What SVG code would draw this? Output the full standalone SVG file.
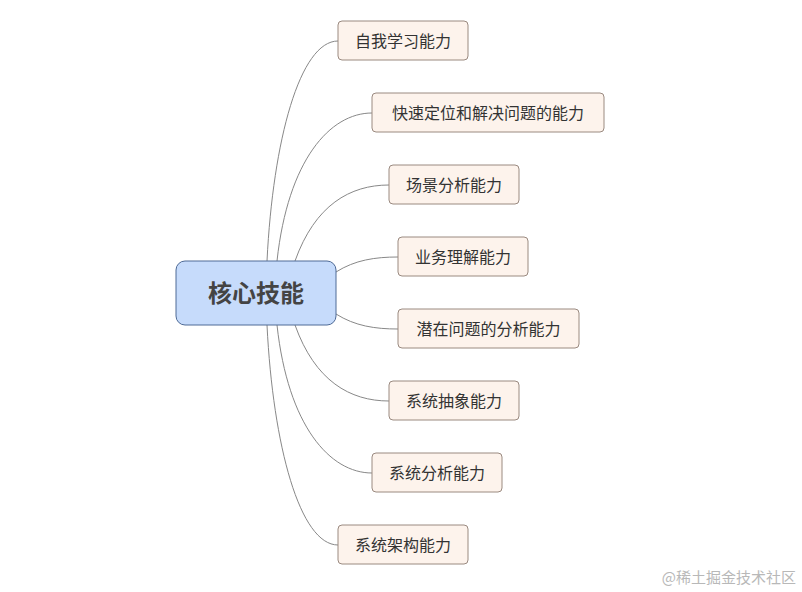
<svg xmlns="http://www.w3.org/2000/svg" width="802" height="592" viewBox="0 0 802 592">
<style>
.c{fill:#fdf3ec;stroke:#9a8a80;stroke-width:1}
.t{font-family:"Noto Sans CJK SC",sans-serif;font-size:16px;fill:#333}
.l{fill:none;stroke:#888;stroke-width:1}
</style>
<rect width="802" height="592" fill="#fff"/>
<g id="connectors">
<path class="l" d="M267 261 C273 140 300 41 338 41"/>
<path class="l" d="M277 261 C288 160 330 113 372 113"/>
<path class="l" d="M295 261 C315 205 350 185 389 185"/>
<path class="l" d="M336 272 C355 260 375 257 398 257"/>
<path class="l" d="M336 314 C355 326 375 329 398 329"/>
<path class="l" d="M295 325 C315 381 350 401 389 401"/>
<path class="l" d="M277 325 C288 426 330 473 372 473"/>
<path class="l" d="M267 325 C273 446 300 545 338 545"/>
</g>
<g id="root"><rect x="176" y="261" width="160" height="64" rx="9" fill="#c6dbfb" stroke="#4e6a96"/>
<text x="256" y="302" text-anchor="middle" class="t" style="font-size:24px;font-weight:bold;fill:#444">核心技能</text></g>
<g id="n1"><rect class="c" x="338" y="21" width="130" height="39" rx="4"/><text class="t" x="403" y="47" text-anchor="middle">自我学习能力</text></g>
<g id="n2"><rect class="c" x="372" y="93" width="232" height="39" rx="4"/><text class="t" x="488" y="119" text-anchor="middle">快速定位和解决问题的能力</text></g>
<g id="n3"><rect class="c" x="389" y="165" width="130" height="39" rx="4"/><text class="t" x="454" y="191" text-anchor="middle">场景分析能力</text></g>
<g id="n4"><rect class="c" x="398" y="237" width="130" height="39" rx="4"/><text class="t" x="463" y="263" text-anchor="middle">业务理解能力</text></g>
<g id="n5"><rect class="c" x="398" y="309" width="181" height="39" rx="4"/><text class="t" x="488.5" y="335" text-anchor="middle">潜在问题的分析能力</text></g>
<g id="n6"><rect class="c" x="389" y="381" width="130" height="39" rx="4"/><text class="t" x="454" y="407" text-anchor="middle">系统抽象能力</text></g>
<g id="n7"><rect class="c" x="372" y="453" width="130" height="39" rx="4"/><text class="t" x="437" y="479" text-anchor="middle">系统分析能力</text></g>
<g id="n8"><rect class="c" x="338" y="525" width="130" height="39" rx="4"/><text class="t" x="403" y="551" text-anchor="middle">系统架构能力</text></g>
<text x="796" y="583" text-anchor="end" class="t" style="font-size:15px;fill:#b8b8b8">@稀土掘金技术社区</text>
</svg>
